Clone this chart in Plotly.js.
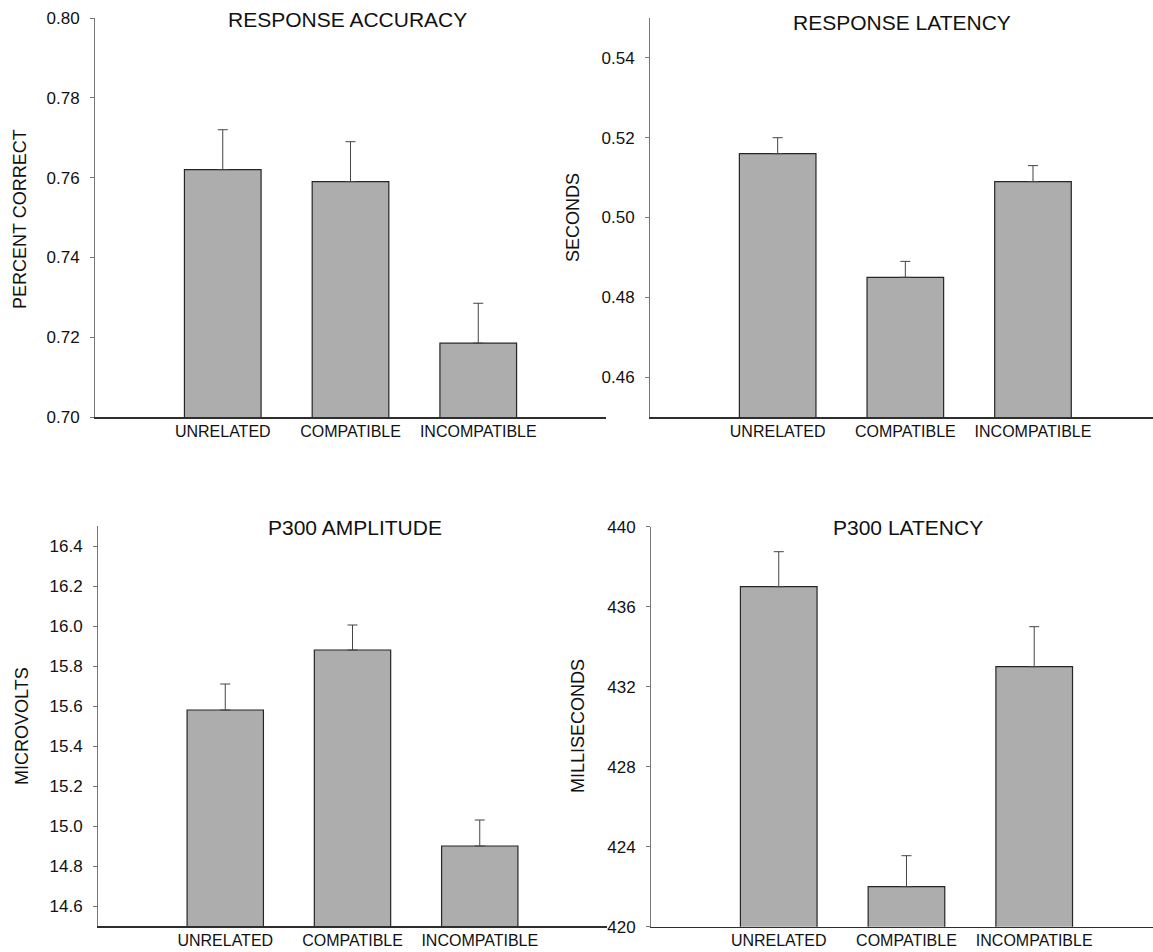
<!DOCTYPE html>
<html><head><meta charset="utf-8">
<script src="https://cdn.plot.ly/plotly-3.0.1.min.js"></script>
<style>html,body{margin:0;padding:0;background:#fff}#chart{width:1153px;height:952px}</style>
</head><body><div id="chart"></div>
<script>
// ---- data ----
const categories = ['UNRELATED', 'COMPATIBLE', 'INCOMPATIBLE'];
const accuracy = [0.762, 0.759, 0.7185];
const accuracyErr = [0.010, 0.010, 0.010];
const respLatency = [0.516, 0.485, 0.509];
const respLatencyErr = [0.004, 0.004, 0.004];
const p300Amplitude = [15.58, 15.88, 14.90];
const p300AmplitudeErr = [0.13, 0.125, 0.13];
const p300Latency = [437.0, 422.0, 433.0];
const p300LatencyErr = [1.75, 1.55, 2.0];

const panelTitles = ['RESPONSE ACCURACY', 'RESPONSE LATENCY', 'P300 AMPLITUDE', 'P300 LATENCY'];
const yTitles = ['PERCENT CORRECT', 'SECONDS', 'MICROVOLTS', 'MILLISECONDS'];
const ticks1 = [0.70, 0.72, 0.74, 0.76, 0.78, 0.80];
const ticks2 = [0.46, 0.48, 0.50, 0.52, 0.54];
const ticks3 = [14.6, 14.8, 15.0, 15.2, 15.4, 15.6, 15.8, 16.0, 16.2, 16.4];
const ticks4 = [420, 424, 428, 432, 436, 440];

// ---- layout helpers ----
const W = 1153, H = 952;
const FONT = 'Liberation Sans, Arial, Helvetica, sans-serif';
const TXT = '#111111';
const px = v => v / W;
const py = v => (H - v) / H;

const panels = [
  {y: accuracy, e: accuracyErr, xd: [95, 606], yd: [18, 417], xr: [-1, 3], yr: [0.70, 0.80], tv: ticks1, tf: '.2f',
   title: [347, 19], ytitle: [20, 219]},
  {y: respLatency, e: respLatencyErr, xd: [650, 1153], yd: [18, 417], xr: [-1, 2.94], yr: [0.45, 0.55], tv: ticks2, tf: '.2f',
   title: [902, 22], ytitle: [573, 218]},
  {y: p300Amplitude, e: p300AmplitudeErr, xd: [98, 607], yd: [526, 926], xr: [-1, 3], yr: [14.5, 16.5], tv: ticks3, tf: '.1f',
   title: [355, 527], ytitle: [22, 726]},
  {y: p300Latency, e: p300LatencyErr, xd: [651, 1153], yd: [526.7, 926.7], xr: [-1, 2.93], yr: [420, 440], tv: ticks4, tf: 'd',
   title: [908, 527], ytitle: [578, 726]}
];

const traces = [];
const layout = {
  width: W, height: H,
  margin: {l: 0, r: 0, t: 0, b: 0, pad: 0},
  paper_bgcolor: '#ffffff', plot_bgcolor: 'rgba(0,0,0,0)',
  showlegend: false,
  font: {family: FONT, color: TXT},
  annotations: []
};

panels.forEach((p, i) => {
  const n = i === 0 ? '' : String(i + 1);
  traces.push({
    type: 'bar', x: categories, y: p.y,
    xaxis: 'x' + n, yaxis: 'y' + n,
    width: 0.6,
    marker: {
      color: '#adadad',
      line: {color: '#262626', width: 1.2}
    },
    error_y: {type: 'data', array: p.e, symmetric: false, arrayminus: [0, 0, 0],
              color: '#444', thickness: 1, width: 5},
    hoverinfo: 'skip'
  });
  layout['xaxis' + n] = {
    domain: [px(p.xd[0]), px(p.xd[1])], anchor: 'y' + n,
    type: 'category', range: p.xr,
    showline: true, linecolor: '#2e2e2e', linewidth: 1.5,
    ticks: '', showgrid: false, zeroline: false,
    tickfont: {family: FONT, size: 16, color: TXT},
    ticklabelstandoff: -1, automargin: false
  };
  layout['yaxis' + n] = {
    domain: [py(p.yd[1]), py(p.yd[0])], anchor: 'x' + n,
    range: p.yr, tickvals: p.tv, tickformat: p.tf,
    showline: true, linecolor: '#777', linewidth: 1,
    ticks: 'outside', ticklen: 4, tickcolor: '#777', tickwidth: 1,
    showgrid: false, zeroline: false,
    tickfont: {family: FONT, size: 17, color: TXT},
    ticklabelstandoff: 7, automargin: false
  };
  layout.annotations.push({
    text: panelTitles[i], xref: 'paper', yref: 'paper',
    x: px(p.title[0]), y: py(p.title[1]), xanchor: 'center', yanchor: 'middle',
    showarrow: false, font: {family: FONT, size: 21, color: TXT}
  });
  layout.annotations.push({
    text: yTitles[i], xref: 'paper', yref: 'paper', textangle: -90,
    x: px(p.ytitle[0]), y: py(p.ytitle[1]), xanchor: 'center', yanchor: 'middle',
    showarrow: false, font: {family: FONT, size: 18, color: TXT}
  });
});

Plotly.newPlot('chart', traces, layout, {displayModeBar: false, staticPlot: true});
</script>
</body></html>
